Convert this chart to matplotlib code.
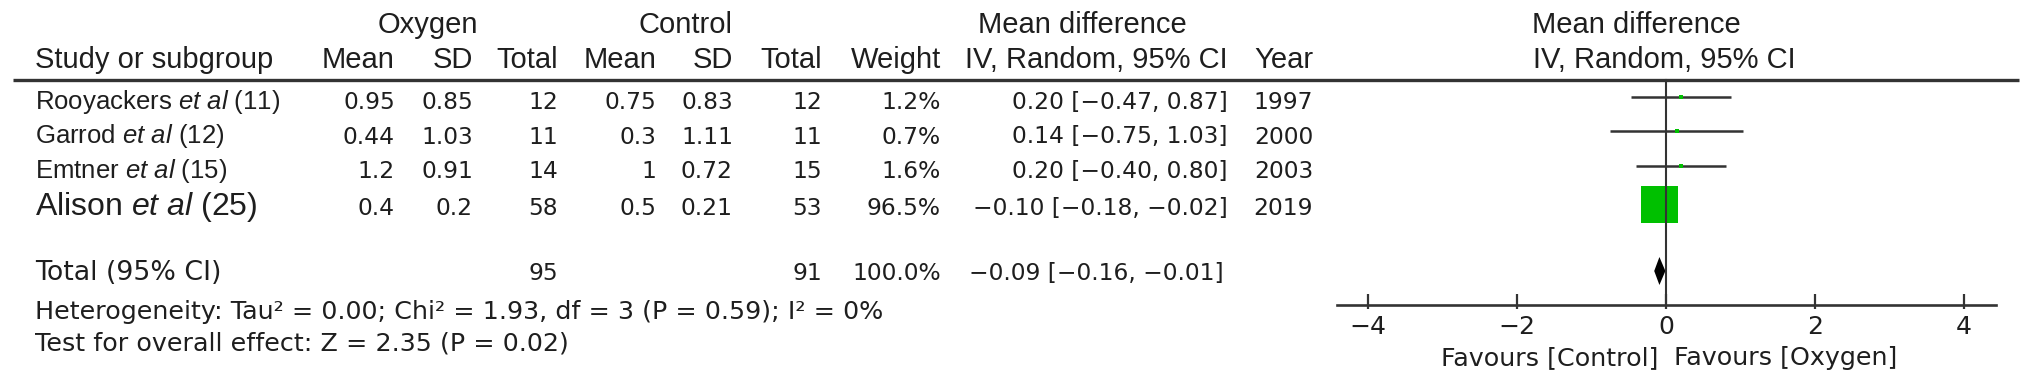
import matplotlib.pyplot as plt

# study data
studies = ["Rooyackers", "Garrod", "Emtner", "Alison"]
refs = [11, 12, 15, 25]
oxy_mean = [0.95, 0.44, 1.2, 0.4]
oxy_sd = [0.85, 1.03, 0.91, 0.2]
oxy_n = [12, 11, 14, 58]
ctl_mean = [0.75, 0.3, 1, 0.5]
ctl_sd = [0.83, 1.11, 0.72, 0.21]
ctl_n = [12, 11, 15, 53]
weights = [1.2, 0.7, 1.6, 96.5]
md = [0.20, 0.14, 0.20, -0.10]
ci_lo = [-0.47, -0.75, -0.40, -0.18]
ci_hi = [0.87, 1.03, 0.80, -0.02]
years = [1997, 2000, 2003, 2019]

total_n = [95, 91]
total_weight = 100.0
total_md = -0.09
total_lo = -0.16
total_hi = -0.01
heterogeneity = "Heterogeneity: Tau² = 0.00; Chi² = 1.93, df = 3 (P = 0.59); I² = 0%"
overall = "Test for overall effect: Z = 2.35 (P = 0.02)"
xticks = [-4, -2, 0, 2, 4]

plt.rcParams['mathtext.fontset'] = 'custom'
plt.rcParams['mathtext.rm'] = 'Liberation Sans'
plt.rcParams['mathtext.it'] = 'Liberation Sans:italic'

W, H = 2032, 384
fig = plt.figure(figsize=(W / 100, H / 100), dpi=100)
tab = fig.add_axes([0, 0, 1, 1])
tab.set_xlim(0, W)
tab.set_ylim(H, 0)
tab.axis('off')

ink = '#1e1e1e'
HEAD = dict(family='Liberation Sans', fontsize=21, color=ink)
NAME = dict(family='Liberation Sans', fontsize=18.5, color=ink)
NUM = dict(family='DejaVu Sans', fontsize=16.8, color=ink)
TXT = dict(family='DejaVu Sans', fontsize=18.3, color=ink)


def fmt(v):
    return ("%.2f" % v).replace('-', '\u2212')


# headers
tab.text(428, 33, "Oxygen", ha='center', **HEAD)
tab.text(685, 33, "Control", ha='center', **HEAD)
tab.text(1082, 33, "Mean difference", ha='center', **HEAD)
tab.text(1636, 33, "Mean difference", ha='center', **HEAD)
tab.text(35, 68, "Study or subgroup", ha='left', **HEAD)
col_x = [395, 473, 558, 656, 733, 822, 941, 1228, 1313]
col_names = ["Mean", "SD", "Total", "Mean", "SD", "Total", "Weight",
             "IV, Random, 95% CI", "Year"]
for x, t in zip(col_x, col_names):
    tab.text(x, 68, t, ha='right', **HEAD)
tab.text(1664, 68, "IV, Random, 95% CI", ha='center', **HEAD)
tab.plot([13, 2019], [80, 80], color='#333333', lw=2.4, solid_capstyle='butt')

# study rows
base_y = [109, 143.5, 178, 215]
mark_y = [96.5, 131, 166, 203.5]
for i in range(len(studies)):
    y = base_y[i]
    name_kw = dict(NAME)
    if i == 3:
        name_kw['fontsize'] = 23
    tab.text(35, y, studies[i] + r" $\it{et\ al}$ (%d)" % refs[i], ha='left', **name_kw)
    cells = [str(oxy_mean[i]), str(oxy_sd[i]), str(oxy_n[i]),
             str(ctl_mean[i]), str(ctl_sd[i]), str(ctl_n[i]),
             "%.1f%%" % weights[i],
             "%s [%s, %s]" % (fmt(md[i]), fmt(ci_lo[i]), fmt(ci_hi[i])),
             str(years[i])]
    for x, t in zip(col_x, cells):
        tab.text(x, y, t, ha='right', **NUM)

# total row
tab.text(35, 280, "Total (95% CI)", ha='left', family='DejaVu Sans',
         fontsize=19.3, color=ink)
tab.text(col_x[2], 280, str(total_n[0]), ha='right', **NUM)
tab.text(col_x[5], 280, str(total_n[1]), ha='right', **NUM)
tab.text(col_x[6], 280, "%.1f%%" % total_weight, ha='right', **NUM)
tab.text(1224, 280, "%s [%s, %s]" % (fmt(total_md), fmt(total_lo), fmt(total_hi)),
         ha='right', **NUM)
tab.text(35, 319, heterogeneity, ha='left', **TXT)
tab.text(35, 351, overall, ha='left', **TXT)

# forest plot
fx = fig.add_axes([1337 / W, 0, (1996 - 1337) / W, 1])
fx.set_xlim(-4.42, 4.43)
fx.set_ylim(H, 0)
fx.patch.set_visible(False)
for s in ['top', 'left', 'right']:
    fx.spines[s].set_visible(False)
fx.spines['bottom'].set_position(('data', 305))
fx.spines['bottom'].set_linewidth(1.9)
fx.spines['bottom'].set_color('#333333')
fx.set_yticks([])
fx.set_xticks(xticks)
fx.set_xticks(xticks, minor=True)
fx.xaxis.remove_overlapping_locs = False
fx.tick_params(axis='x', which='major', direction='in', length=8, width=1.6,
               color='#333333', labelsize=18, labelcolor=ink, pad=7)
fx.tick_params(axis='x', which='minor', direction='out', length=3, width=1.6,
               color='#333333')
for lab in fx.get_xticklabels():
    lab.set_family('DejaVu Sans')

green = '#00c000'
for i in range(len(studies)):
    y = mark_y[i]
    fx.plot([ci_lo[i], ci_hi[i]], [y, y], color='#333333', lw=1.8, solid_capstyle='butt')
    side = 37 * (weights[i] / max(weights)) ** 0.5
    fx.plot(md[i], y, marker='s', ms=side * 0.72, mew=0, color=green, zorder=3)

fx.fill([total_lo, total_md, total_hi, total_md], [271, 257, 271, 285],
        color='black', lw=0, zorder=3)
fx.plot([0, 0], [80, 305], color='#333333', lw=1.5, zorder=4)

fx.text(-0.1, 358, "Favours [Control]", ha='right', va='center', **TXT)
fx.text(0.1, 358, "Favours [Oxygen]", ha='left', va='center', **TXT)

fig.savefig('out.png', dpi=100)
